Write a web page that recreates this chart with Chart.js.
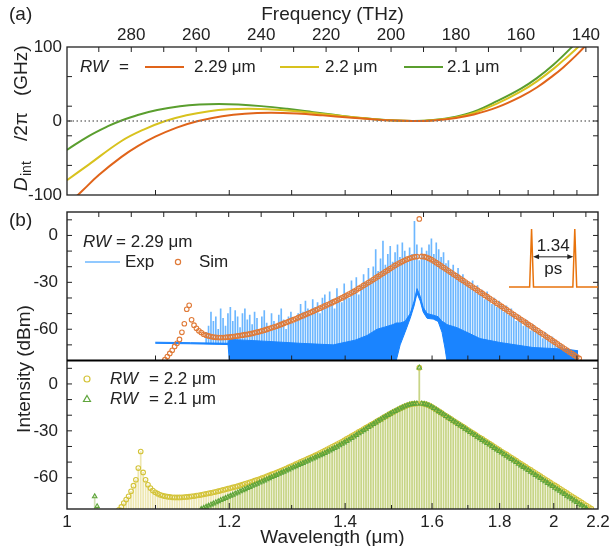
<!DOCTYPE html>
<html>
<head>
<meta charset="utf-8">
<script src="https://cdn.jsdelivr.net/npm/chart.js@4.4.0/dist/chart.umd.min.js"></script>
<style>
  html, body { margin: 0; padding: 0; background: #fff; }
  #wrap { position: relative; width: 613px; height: 546px; overflow: hidden; }
  canvas { position: absolute; left: 0; }
  #cA { top: 0; }
  #cB { top: 200px; }
  #cI { left: 509px; top: 227px; }
</style>
</head>
<body>
<div id="wrap">
  <canvas id="cB" width="613" height="346"></canvas>
  <canvas id="cA" width="613" height="200"></canvas>
  <canvas id="cI" width="89" height="61"></canvas>
</div>
<script>
// ---- axes ----
const c0 = 299.792458;                 // THz * um
const freqMin = c0 / 2.2, freqMax = c0 / 1.0;
const freqLabels = [280, 260, 240, 220, 200, 180, 160, 140];
const freqTicks = [290, 280, 270, 260, 250, 240, 230, 220, 210, 200, 190, 180, 170, 160, 150, 140];
const lamLabels = [1, 1.2, 1.4, 1.6, 1.8, 2, 2.2];
const lamTicks = [1.1, 1.2, 1.3, 1.4, 1.5, 1.6, 1.7, 1.8, 1.9, 2.0, 2.1];
const dintLabels = [100, 0, -100];
const dintTicks = [60, 20, 0, -20, -60];
const dbmLabels = [0, -30, -60];
const dbmTicks = [10, 0, -10, -20, -30, -40, -50, -60, -70];

// ---- panel (a): Dint/2pi (GHz) vs frequency (THz) ----
const dintFreq229 = [299.8, 295, 290, 283, 278, 272.6, 266, 259.4, 252, 245, 237, 229, 221, 213, 205, 199, 193, 187, 180, 174.5, 167.4, 160, 155, 150, 146.9, 143, 139.3, 136.3];
const dint229     = [-114, -94, -73, -48.5, -34, -21.2, -8.9, 0, 6.5, 9.9, 11, 10, 7.6, 4.7, 2, 0.55, 0, 0.8, 4.2, 8.9, 18.4, 33, 45.6, 61.7, 72.8, 88.7, 105.6, 120.6];
const dintFreq22  = [299.8, 293.1, 283, 276, 269.5, 263, 256, 250, 244, 238, 230, 222, 214, 206, 199, 193, 187, 180, 174.5, 167.4, 160, 155.1, 150, 146, 142.4, 138];
const dint22      = [-80, -58.9, -27, -11.2, 0, 7.9, 13.3, 15.8, 16.5, 15.9, 13.5, 9.9, 6.1, 2.7, 0.63, 0, 1.0, 4.9, 10.9, 23.4, 40, 53.6, 70.4, 85.6, 100, 121];
const dintFreq21  = [299.8, 293.1, 287, 283.4, 278, 272, 265, 259, 253, 247, 240, 232, 224, 216, 208, 200, 193, 187, 180, 174.5, 167.4, 160, 155.1, 150, 144.3, 140];
const dint21      = [-39, -20.4, -6.7, 0, 8.2, 14.9, 20, 22.3, 23, 22.3, 20.1, 16.4, 12, 7.5, 3.6, 0.86, 0, 1.2, 5.9, 12.5, 26.8, 43.8, 58, 76, 100, 120];

// ---- panel (b): comb lines, mode number -> frequency ----
const pumpTHz = 191.3;
const fsrTHz = 0.746;                  // 1 / 1.34 ps

// simulated spectrum RW = 2.29 um, modes 105 down to -66 (dBm)
const sim229Start = 105;
const sim229 = [
  -79.5, -77.5, -75.5, -73.5, -71, -69, -66.5, -62, -56.5, -47.2,
  -44.7, -54, -57.4, -59.4, -61, -62.1, -63.2, -63.8, -64.3, -64.7,
  -65, -65.2, -65.3, -65.3, -65.3, -65.2, -65.1, -64.9, -64.7, -64.5,
  -64.3, -64, -63.8, -63.5, -63.3, -63, -62.7, -62.3, -61.9, -61.5,
  -61.1, -60.6, -60.1, -59.6, -59.1, -58.6, -58.1, -57.5, -56.9, -56.3,
  -55.7, -55.1, -54.5, -53.9, -53.3, -52.6, -51.9, -51.3, -50.6, -50,
  -49.3, -48.6, -47.9, -47.2, -46.5, -45.8, -45.1, -44.4, -43.7, -43,
  -42.2, -41.5, -40.7, -40, -39.2, -38.3, -37.5, -36.7, -35.8, -34.9,
  -33.9, -33, -32, -31.1, -30.1, -29.2, -28.2, -27.2, -26.2, -25.2,
  -24.2, -23.2, -22.2, -21.2, -20.2, -19.2, -18.3, -17.5, -16.7, -15.9,
  -15.2, -14.6, -14.1, -13.7, -13.5, 10.6, -13.4, -13.6, -14, -14.7,
  -15.5, -16.4, -17.4, -18.4, -19.5, -20.5, -21.5, -22.6, -23.6, -24.7,
  -25.7, -26.7, -27.8, -28.8, -29.8, -30.9, -31.9, -33, -34, -35,
  -36.1, -37.1, -38.2, -39.2, -40.2, -41.3, -42.3, -43.4, -44.4, -45.4,
  -46.5, -47.5, -48.6, -49.6, -50.6, -51.7, -52.7, -53.8, -54.8, -55.8,
  -56.9, -57.9, -59, -60, -61, -62.1, -63.1, -64.2, -65.2, -66.2,
  -67.3, -68.3, -69.4, -70.4, -71.4, -72.5, -73.5, -74.6, -75.6, -76.6,
  -77.7, -78.7
];

// measured comb line peaks, modes 88 down to -64 (dBm)
const expStart = 88;
const expPeaks = [
  -62, -58, -49, -55, -52, -60, -47, -53, -58, -50,
  -46, -55, -48, -52, -59, -50, -47, -54, -51, -57,
  -49, -53, -60, -52, -48, -56, -61, -50, -55, -58,
  -51, -47, -54, -60, -52, -49, -56, -53, -50, -44,
  -49, -42, -47, -51, -41, -46, -43, -50, -40, -38,
  -45, -36, -41, -47, -34, -39, -43, -31, -37, -40,
  -29, -35, -27, -38, -32, -25, -30, -21, -28, -20,
  -9, -23, -15, -3.6, -19, -12, -7, -17, -11, -6,
  -14, -4.7, -10, -16, -8, -12, 9, -6, -16, -8,
  -13, -10, -6, -2.1, -12, -4.7, -9, -14, -11, -18,
  -16, -22, -19, -24, -21, -27, -25, -29, -30, -33,
  -29, -36, -32, -38, -35, -41, -36, -39, -44, -40,
  -46, -42, -44, -49, -45, -51, -47, -50, -55, -51,
  -53, -58, -54, -56, -61, -57, -59, -62, -61, -66,
  -62, -64, -68, -65, -67, -71, -69, -70, -73, -72,
  -75, -74, -76
];

// measured background (noise floor) band: frequency, lower edge, upper edge
const floorTHz  = [272.6, 261.8, 250.2, 249.8, 240.3, 228.0, 217.8, 211.1, 207.4, 204.3, 201.8, 199.4, 198.4, 197.2, 195.7, 194.1, 192.9, 192.0, 191.0, 190.1, 188.9, 187.0, 185.5, 184.3, 183.4, 182.8, 179.7, 176.6, 172.6, 166.4, 156.3, 145.8, 142.4];
const floorLow  = [-69, -69.3, -69.8, -80, -80, -80, -80, -80, -80, -80, -80, -80, -80, -70, -62, -53, -45, -37, -42, -49, -53, -53.5, -55, -62, -72, -80, -80, -80, -80, -80, -80, -80, -80];
const floorHigh = [-68.3, -68.6, -69, -66.5, -67.5, -69, -70, -67, -64, -60, -58.5, -57, -56, -56, -55, -50, -42, -34, -39, -46, -50, -51, -52, -55, -56, -57, -59, -62, -66, -68.5, -71.7, -72.8, -73.8];

// simulated spectrum RW = 2.2 um, modes 124 down to -71
const sim22Start = 124;
const sim22 = [
  -80.5, -78.7, -76.2, -74, -71.9, -68.7, -65.1, -61.3, -53.8, -43.2,
  -56.6, -61.3, -64.5, -66.6, -68.2, -69.3, -70.2, -70.9, -71.4, -71.8,
  -72.1, -72.3, -72.5, -72.6, -72.6, -72.6, -72.5, -72.4, -72.3, -72.1,
  -71.9, -71.7, -71.4, -71.2, -70.9, -70.6, -70.3, -70, -69.7, -69.3,
  -69, -68.6, -68.2, -67.8, -67.4, -67, -66.6, -66.2, -65.8, -65.4,
  -64.9, -64.4, -63.9, -63.4, -62.9, -62.4, -61.9, -61.4, -60.9, -60.3,
  -59.7, -59.1, -58.5, -57.9, -57.3, -56.7, -56.1, -55.5, -54.8, -54.1,
  -53.4, -52.7, -52, -51.3, -50.6, -49.9, -49.2, -48.5, -47.8, -47.1,
  -46.4, -45.7, -45, -44.2, -43.4, -42.6, -41.8, -41, -40.2, -39.4,
  -38.6, -37.8, -37, -36.1, -35.2, -34.3, -33.4, -32.5, -31.6, -30.7,
  -29.8, -28.9, -28, -27.1, -26.2, -25.3, -24.4, -23.5, -22.6, -21.7,
  -20.8, -19.9, -19, -18.1, -17.3, -16.5, -15.7, -15, -14.3, -13.7,
  -13.2, -12.8, -12.6, -12.5, 10.4, -12.5, -12.7, -13.1, -13.7, -14.5,
  -15.4, -16.4, -17.4, -18.4, -19.4, -20.4, -21.4, -22.4, -23.4, -24.4,
  -25.3, -26.3, -27.3, -28.3, -29.3, -30.3, -31.3, -32.3, -33.3, -34.3,
  -35.2, -36.2, -37.2, -38.2, -39.2, -40.2, -41.2, -42.2, -43.2, -44.2,
  -45.1, -46.1, -47.1, -48.1, -49.1, -50.1, -51.1, -52.1, -53.1, -54.1,
  -55, -56, -57, -58, -59, -60, -61, -62, -63, -64,
  -64.9, -65.9, -66.9, -67.9, -68.9, -69.9, -70.9, -71.9, -72.9, -73.9,
  -74.8, -75.8, -76.8, -77.8, -78.8, -79.8
];

// simulated spectrum RW = 2.1 um: dispersive wave (modes 134, 133) and main part (90 down to -69)
const sim21DwStart = 134;
const sim21Dw = [-72, -78.3];
const sim21Start = 90;
const sim21 = [
  -80, -79.3, -78.6, -77.9, -77.2, -76.5, -75.8, -75.1, -74.4, -73.7,
  -73, -72.3, -71.6, -70.9, -70.2, -69.5, -68.8, -68.1, -67.4, -66.7,
  -66, -65.3, -64.6, -63.9, -63.2, -62.5, -61.8, -61.1, -60.4, -59.7,
  -59, -58.3, -57.6, -56.9, -56.2, -55.5, -54.8, -54.1, -53.4, -52.7,
  -52, -51.3, -50.6, -49.9, -49.2, -48.5, -47.8, -47.1, -46.4, -45.7,
  -45, -44.2, -43.4, -42.6, -41.8, -41, -40.2, -39.3, -38.4, -37.5,
  -36.6, -35.7, -34.7, -33.7, -32.7, -31.7, -30.7, -29.7, -28.7, -27.7,
  -26.7, -25.7, -24.7, -23.7, -22.8, -21.8, -20.9, -20, -19.1, -18.2,
  -17.4, -16.6, -15.8, -15.1, -14.4, -13.8, -13.3, -12.9, -12.7, -12.6,
  10.4, -12.6, -12.8, -13.2, -13.8, -14.6, -15.5, -16.5, -17.5, -18.5,
  -19.5, -20.6, -21.6, -22.6, -23.6, -24.6, -25.7, -26.7, -27.7, -28.7,
  -29.7, -30.8, -31.8, -32.8, -33.8, -34.8, -35.9, -36.9, -37.9, -38.9,
  -39.9, -41, -42, -43, -44, -45, -46.1, -47.1, -48.1, -49.1,
  -50.1, -51.2, -52.2, -53.2, -54.2, -55.2, -56.3, -57.3, -58.3, -59.3,
  -60.3, -61.4, -62.4, -63.4, -64.4, -65.4, -66.5, -67.5, -68.5, -69.5,
  -70.5, -71.6, -72.6, -73.6, -74.6, -75.6, -76.7, -77.7, -78.7, -79.7
];

// inset: pulse train (ps, normalised)
const pulseTimes  = [-0.7, -0.06, 0, 0.06, 1.28, 1.34, 1.40, 2.06];
const pulseLevels = [0, 0, 1, 0, 0, 1, 0, 0];
const pulseGap = 1.34;

// ---- helpers ----
const FONT = '"Liberation Sans", Arial, sans-serif';
const ink = '#222';
const orange = '#e0641a', yellow = '#d8c21e', green = '#5a9e2e';
const simOrange = '#e07b39', simYellow = '#d4c43a', simGreen = '#5fa53c';
const blueFloor = '#1a84ff', blueLine = '#6db7ff';
const pts = (xs, ys) => xs.map((x, i) => ({x: x, y: ys[i]}));
const modeTHz = m => pumpTHz + m * fsrTHz;
const comb = (start, vals) => vals.map((v, i) => ({x: modeTHz(start - i), y: v}));
const stems = (start, vals) => vals.map((v, i) => ({x: modeTHz(start - i), y: [-80, v]}));
const fmtLam = v => String(+(c0 / v).toFixed(1));

Chart.defaults.font.family = FONT;
Chart.defaults.font.size = 17;
Chart.defaults.color = ink;

const noGrid = {display: false, drawTicks: false};
// keep the plot area exactly where the frame should be (no label overflow padding)
const noPad = sc => { sc.paddingTop = 0; sc.paddingBottom = 0; sc.paddingLeft = 0; sc.paddingRight = 0; };

function tickLines(ctx, list) {
  ctx.beginPath();
  list.forEach(s => { ctx.moveTo(s[0], s[1]); ctx.lineTo(s[2], s[3]); });
  ctx.stroke();
}

// ---- panel (a) ----
const frameA = {
  id: 'frameA',
  afterDraw(chart) {
    const {ctx, chartArea: a, scales: s} = chart;
    ctx.save();
    ctx.strokeStyle = ink;
    ctx.lineWidth = 1.3;
    ctx.strokeRect(a.left, a.top, a.width, a.height);
    ctx.lineWidth = 1;
    const segs = [];
    freqTicks.forEach(f => { const x = s.xTop.getPixelForValue(f); segs.push([x, a.top, x, a.top + 5]); });
    lamTicks.forEach(l => { const x = s.x.getPixelForValue(c0 / l); segs.push([x, a.bottom, x, a.bottom - 5]); });
    dintTicks.forEach(v => {
      const y = s.y.getPixelForValue(v);
      segs.push([a.left, y, a.left + 5, y]);
      segs.push([a.right, y, a.right - 5, y]);
    });
    tickLines(ctx, segs);

    ctx.fillStyle = ink;
    ctx.textBaseline = 'middle';
    ctx.font = '19px ' + FONT;
    ctx.textAlign = 'left';
    ctx.fillText('(a)', 9, 15);
    ctx.textAlign = 'center';
    ctx.fillText('Frequency (THz)', (a.left + a.right) / 2, 15);

    // y title, rotated
    ctx.save();
    ctx.translate(22, 0);
    ctx.rotate(-Math.PI / 2);
    ctx.textAlign = 'left';
    ctx.font = 'italic 19px ' + FONT;
    ctx.fillText('D', -191, 0);
    ctx.font = '14px ' + FONT;
    ctx.fillText('int', -176, 5);
    ctx.font = '19px ' + FONT;
    ctx.fillText('/2\u03c0', -141, 0);
    ctx.fillText('(GHz)', -96, 0);
    ctx.restore();

    // legend
    const ly = 67;
    ctx.textAlign = 'left';
    ctx.font = 'italic 17px ' + FONT;
    ctx.fillText('RW', 80, ly);
    ctx.font = '17px ' + FONT;
    ctx.fillText('=', 119, ly);
    [[orange, 145, 184, '2.29 \u03bcm', 194], [yellow, 280, 319, '2.2 \u03bcm', 325], [green, 404, 443, '2.1 \u03bcm', 447]].forEach(e => {
      ctx.strokeStyle = e[0];
      ctx.lineWidth = 2;
      ctx.beginPath(); ctx.moveTo(e[1], ly); ctx.lineTo(e[2], ly); ctx.stroke();
      ctx.fillText(e[3], e[4], ly);
    });
    ctx.restore();
  }
};

const curve = (xs, ys, col) => ({
  data: pts(xs, ys), borderColor: col, borderWidth: 2, pointRadius: 0,
  tension: 0.4, capBezierPoints: false, xAxisID: 'x', yAxisID: 'y'
});

new Chart(document.getElementById('cA'), {
  type: 'line',
  data: {
    datasets: [
      {data: pts([freqMin, freqMax], [0, 0]), borderColor: '#777', borderWidth: 1.3, borderDash: [1.5, 2.5], pointRadius: 0, xAxisID: 'x', yAxisID: 'y'},
      curve(dintFreq229, dint229, orange),
      curve(dintFreq22, dint22, yellow),
      curve(dintFreq21, dint21, green)
    ]
  },
  options: {
    responsive: false, animation: false, events: [],
    layout: {padding: {left: 0, right: 15, top: 0, bottom: 5}},
    plugins: {legend: {display: false}, tooltip: {enabled: false}},
    scales: {
      x: {type: 'linear', reverse: true, min: freqMin, max: freqMax, display: false},
      xTop: {
        type: 'linear', position: 'top', reverse: true, min: freqMin, max: freqMax,
        grid: noGrid, border: {display: false},
        afterBuildTicks: ax => { ax.ticks = freqLabels.map(v => ({value: v})); },
        ticks: {autoSkip: false, maxRotation: 0, padding: 1, callback: v => String(v)},
        afterFit: sc => { sc.height = 47; noPad(sc); }
      },
      y: {
        type: 'linear', min: -100, max: 100, grid: noGrid, border: {display: false},
        afterBuildTicks: ax => { ax.ticks = dintLabels.map(v => ({value: v})); },
        ticks: {padding: 5, callback: v => String(v)},
        afterFit: sc => { sc.width = 67; noPad(sc); }
      }
    }
  },
  plugins: [frameA]
});

// ---- panel (b) ----
const frameB = {
  id: 'frameB',
  afterDraw(chart) {
    const {ctx, chartArea: a, scales: s} = chart;
    const up = s.yUp, lo = s.yLo, xs = s.x;
    const top = Math.min(up.top, lo.top), bot = Math.max(up.bottom, lo.bottom);
    ctx.save();
    ctx.strokeStyle = ink;
    ctx.lineWidth = 1.4;
    ctx.strokeRect(a.left, top, a.width, bot - top);
    ctx.lineWidth = 1;
    const segs = [];
    freqTicks.forEach(f => { const x = xs.getPixelForValue(f); segs.push([x, up.top, x, up.top + 5]); });
    lamTicks.forEach(l => {
      const x = xs.getPixelForValue(c0 / l);
      const major = lamLabels.indexOf(l) >= 0;
      segs.push([x, up.bottom, x, up.bottom - 5]);
      segs.push([x, lo.bottom, x, lo.bottom - (major ? 6 : 4)]);
    });
    dbmTicks.forEach(v => {
      [up, lo].forEach(sc => {
        const y = sc.getPixelForValue(v);
        segs.push([a.left, y, a.left + 5, y]);
        segs.push([a.right, y, a.right - 5, y]);
      });
    });
    tickLines(ctx, segs);
    ctx.strokeStyle = '#000';
    ctx.lineWidth = 2.2;
    tickLines(ctx, [[a.left, up.bottom, a.right, up.bottom]]);

    ctx.fillStyle = ink;
    ctx.textBaseline = 'middle';
    ctx.font = '19px ' + FONT;
    ctx.textAlign = 'left';
    ctx.fillText('(b)', 9, 21);
    ctx.textAlign = 'center';
    ctx.fillText('Wavelength (\u03bcm)', (a.left + a.right) / 2, 338);
    ctx.save();
    ctx.translate(25, 169);
    ctx.rotate(-Math.PI / 2);
    ctx.fillText('Intensity (dBm)', 0, 0);
    ctx.restore();

    // legends
    ctx.textAlign = 'left';
    ctx.font = 'italic 17px ' + FONT;
    ctx.fillText('RW', 83, 42);
    ctx.fillText('RW', 110, 179);
    ctx.fillText('RW', 110, 199);
    ctx.font = '17px ' + FONT;
    ctx.fillText('= 2.29 \u03bcm', 116, 42);
    ctx.fillText('= 2.2 \u03bcm', 149, 179);
    ctx.fillText('= 2.1 \u03bcm', 149, 199);
    ctx.fillText('Exp', 125, 62);
    ctx.fillText('Sim', 199, 62);
    ctx.strokeStyle = blueLine;
    ctx.lineWidth = 1.5;
    tickLines(ctx, [[85, 62, 120, 62]]);
    ctx.lineWidth = 1.2;
    ctx.strokeStyle = simOrange;
    ctx.beginPath(); ctx.arc(178, 62, 2.6, 0, 2 * Math.PI); ctx.stroke();
    ctx.strokeStyle = simYellow;
    ctx.beginPath(); ctx.arc(87, 179, 3, 0, 2 * Math.PI); ctx.stroke();
    ctx.strokeStyle = simGreen;
    ctx.beginPath(); ctx.moveTo(87, 195.5); ctx.lineTo(90.5, 201.5); ctx.lineTo(83.5, 201.5); ctx.closePath(); ctx.stroke();
    ctx.restore();
  }
};

const yStack = () => ({
  type: 'linear', position: 'left', stack: 'b', stackWeight: 1, min: -80, max: 15,
  grid: noGrid, border: {display: false},
  afterBuildTicks: ax => { ax.ticks = dbmLabels.map(v => ({value: v})); },
  ticks: {padding: 9, callback: v => String(v)},
  afterFit: sc => { sc.width = 67; noPad(sc); }
});

new Chart(document.getElementById('cB'), {
  type: 'line',
  data: {
    datasets: [
      {type: 'bar', data: stems(expStart, expPeaks), backgroundColor: blueLine, borderWidth: 0,
       barThickness: 1, grouped: false, order: 5, xAxisID: 'x', yAxisID: 'yUp'},
      {data: pts(floorTHz, floorLow), borderColor: blueFloor, borderWidth: 1, pointRadius: 0,
       fill: 'start', backgroundColor: '#ffffff', order: 4, xAxisID: 'x', yAxisID: 'yUp'},
      {data: pts(floorTHz, floorHigh), borderColor: blueFloor, borderWidth: 1, pointRadius: 0,
       fill: '-1', backgroundColor: blueFloor, order: 3, xAxisID: 'x', yAxisID: 'yUp'},
      {data: comb(sim229Start, sim229), showLine: false, pointStyle: 'circle', pointRadius: 2.3,
       pointBorderWidth: 1.1, pointBorderColor: simOrange, pointBackgroundColor: 'rgba(0,0,0,0)',
       order: 1, xAxisID: 'x', yAxisID: 'yUp'},
      {type: 'bar', data: stems(sim22Start, sim22), backgroundColor: 'rgba(222,208,100,0.5)', borderWidth: 0,
       barThickness: 1, grouped: false, order: 7, xAxisID: 'x', yAxisID: 'yLo'},
      {type: 'bar', data: stems(sim21DwStart, sim21Dw).concat(stems(sim21Start, sim21)), backgroundColor: 'rgba(150,190,85,0.45)', borderWidth: 0,
       barThickness: 1, grouped: false, order: 6, xAxisID: 'x', yAxisID: 'yLo'},
      {data: comb(sim22Start, sim22), showLine: false, pointStyle: 'circle', pointRadius: 2.3,
       pointBorderWidth: 1.1, pointBorderColor: simYellow, pointBackgroundColor: 'rgba(0,0,0,0)',
       order: 2, xAxisID: 'x', yAxisID: 'yLo'},
      {data: comb(sim21DwStart, sim21Dw).concat(comb(sim21Start, sim21)), showLine: false, pointStyle: 'triangle', pointRadius: 2.6,
       pointBorderWidth: 1.1, pointBorderColor: simGreen, pointBackgroundColor: 'rgba(0,0,0,0)',
       order: 1, xAxisID: 'x', yAxisID: 'yLo'}
    ]
  },
  options: {
    responsive: false, animation: false, events: [],
    layout: {padding: {left: 0, right: 15, top: 12, bottom: 0}},
    plugins: {legend: {display: false}, tooltip: {enabled: false}},
    scales: {
      x: {
        type: 'linear', position: 'bottom', reverse: true, min: freqMin, max: freqMax, offset: false,
        grid: noGrid, border: {display: false},
        afterBuildTicks: ax => { ax.ticks = lamLabels.map(l => ({value: c0 / l})); },
        ticks: {autoSkip: false, maxRotation: 0, padding: 3, callback: v => fmtLam(v)},
        afterFit: sc => { sc.height = 37; noPad(sc); }
      },
      yLo: yStack(),
      yUp: yStack()
    }
  },
  plugins: [frameB]
});

// ---- inset: pulse train ----
const insetLabel = {
  id: 'insetLabel',
  afterDraw(chart) {
    const {ctx, scales: s} = chart;
    const x0 = s.x.getPixelForValue(0) + 1.5, x1 = s.x.getPixelForValue(pulseGap) - 1.5;
    const ya = s.y.getPixelForValue(0.52);
    ctx.save();
    ctx.strokeStyle = ink; ctx.fillStyle = ink; ctx.lineWidth = 1;
    tickLines(ctx, [[x0 + 4, ya, x1 - 4, ya]]);
    ctx.beginPath(); ctx.moveTo(x0, ya); ctx.lineTo(x0 + 6, ya - 2.5); ctx.lineTo(x0 + 6, ya + 2.5); ctx.closePath(); ctx.fill();
    ctx.beginPath(); ctx.moveTo(x1, ya); ctx.lineTo(x1 - 6, ya - 2.5); ctx.lineTo(x1 - 6, ya + 2.5); ctx.closePath(); ctx.fill();
    ctx.font = '17px ' + FONT;
    ctx.textAlign = 'center'; ctx.textBaseline = 'middle';
    const xm = (s.x.getPixelForValue(0) + s.x.getPixelForValue(pulseGap)) / 2;
    ctx.fillText(String(pulseGap), xm, s.y.getPixelForValue(0.7));
    ctx.fillText('ps', xm, s.y.getPixelForValue(0.31));
    ctx.restore();
  }
};

new Chart(document.getElementById('cI'), {
  type: 'line',
  data: {datasets: [{data: pts(pulseTimes, pulseLevels), borderColor: '#e8730c', borderWidth: 1.5, pointRadius: 0, clip: false}]},
  options: {
    responsive: false, animation: false, events: [],
    layout: {padding: {left: 0, right: 0, top: 2, bottom: 1}},
    plugins: {legend: {display: false}, tooltip: {enabled: false}},
    scales: {
      x: {type: 'linear', min: -0.7, max: 2.06, display: false},
      y: {type: 'linear', min: 0, max: 1, display: false}
    }
  },
  plugins: [insetLabel]
});
</script>
</body>
</html>
